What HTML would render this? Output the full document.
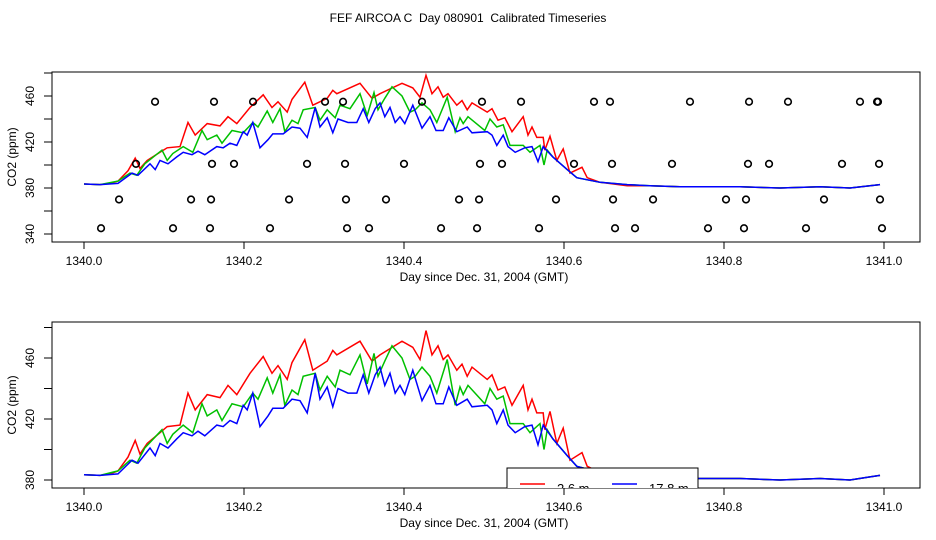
<!DOCTYPE html>
<html><head><meta charset="utf-8">
<style>
html,body{margin:0;padding:0;background:#fff;}
svg{display:block;font-family:"Liberation Sans",sans-serif;}
</style></head>
<body>
<svg id="chart" width="936" height="540" viewBox="0 0 936 540" xmlns="http://www.w3.org/2000/svg">
<rect x="0" y="0" width="936" height="540" fill="#fff"/>
<text x="468" y="22" text-anchor="middle" font-size="12" style="white-space:pre">FEF AIRCOA C  Day 080901  Calibrated Timeseries</text>
<defs>
<clipPath id="clipTop"><rect x="52" y="72" width="868" height="170"/></clipPath>
<clipPath id="clipBot"><rect x="52" y="322" width="868" height="166"/></clipPath>
</defs>
<g id="top"></g>
<g id="bot"></g>
</svg>
<script>
const dayBase = 1340;
const xTicks = [1340.0, 1340.2, 1340.4, 1340.6, 1340.8, 1341.0];
const xTickLabels = ["1340.0", "1340.2", "1340.4", "1340.6", "1340.8", "1341.0"];
const topYTicks = [340, 360, 380, 400, 420, 440, 460, 480];
const botYTicks = [380, 400, 420, 440, 460, 480];
const seriesNames = ["2.6 m", "17.8 m"];

const redT = [0,.02,.0325,.0425,.055,.064,.07,.079,.095,.104,.12,.13,.139,.154,.17,.18,.191,.2075,.224,.235,.2425,.254,.26,.276,.286,.304,.311,.316,.345,.36,.37,.3975,.411,.42,.4275,.435,.4425,.449,.455,.466,.4725,.479,.485,.504,.51,.5175,.526,.535,.549,.555,.56,.566,.574,.576,.5825,.591,.599,.6075,.6225,.629,.645,.679,.7075,.745,.77,.82,.87,.92,.9575,.9825,.995];
const redV = [383.5,383,384,386,395,406,397,404,411,415,416,437,426,436,434,442,436,450,461,450,455,446,457,472,452,458,465,462,471,458,462,471,467,459,478,462,468,459,462,452,456,448,454,446,449,439,441,429,442,426,433,424,424,413,425,404,414,393,398,389,385,382,382,381,381,381,380,381,380,382,383];

const greenT = [0,.02,.0425,.0575,.066,.076,.0975,.104,.111,.124,.136,.1475,.154,.166,.1725,.185,.199,.211,.2175,.229,.236,.245,.251,.26,.2675,.274,.289,.295,.304,.314,.32,.3325,.345,.354,.3625,.3675,.376,.385,.3975,.4075,.414,.4225,.4325,.441,.454,.464,.47,.474,.48,.501,.5075,.516,.524,.5325,.549,.5575,.57,.575,.579,.586,.604,.616,.645,.679,.7075,.745,.77,.82,.87,.92,.9575,.9825,.995];
const greenV = [383.5,383,386,393,391,401,413,404,410,416,411,430,422,426,419,430,428,437,433,447,437,449,429,439,436,448,450,439,448,441,452,449,462,443,463,448,458,468,460,446,448,454,448,437,459,429,441,436,442,430,440,433,435,417,417,411,417,400,413,407,396,389,385,383,382,381,381,381,380,381,380,382,383];

const blueT = [0,.02,.0425,.06,.0675,.0825,.089,.095,.105,.116,.124,.135,.1425,.151,.166,.174,.1825,.191,.199,.204,.211,.22,.23,.236,.249,.26,.27,.279,.289,.295,.304,.311,.3175,.33,.341,.349,.356,.364,.37,.376,.3825,.389,.395,.401,.411,.4225,.4325,.44,.449,.456,.466,.479,.485,.504,.51,.516,.524,.53,.539,.551,.56,.5675,.574,.586,.604,.616,.645,.679,.7075,.745,.77,.82,.87,.92,.9575,.9825,.995];
const blueV = [383.5,383,384,393,391,401,396,404,401,407,411,409,412,409,416,415,419,417,429,426,437,415,422,427,427,433,432,424,450,433,441,428,440,437,437,449,437,449,454,442,450,437,442,436,452,432,442,430,430,441,429,433,428,429,426,417,426,416,411,415,416,403,416,407,396,389,385,383,382,381,381,381,380,381,380,382,383];

const circT = [.0888,.1625,.2113,.3013,.3238,.4225,.4975,.5463,.6375,.6575,.7575,.8313,.88,.97,.9913,.9925,
 .065,.16,.1875,.2788,.3263,.4,.495,.5225,.6125,.66,.735,.83,.8563,.9475,.9938,
 .0438,.1338,.1588,.2563,.3275,.3775,.4688,.4938,.59,.6613,.7113,.8025,.8275,.925,.995,
 .0213,.1113,.1575,.2325,.3288,.3563,.4463,.4913,.5688,.6638,.6888,.78,.825,.9025,.9975];
const circV = [455,455,455,455,455,455,455,455,455,455,455,455,455,455,455,455,
 401,401,401,401,401,401,401,401,401,401,401,401,401,401,401,
 370,370,370,370,370,370,370,370,370,370,370,370,370,370,370,
 345,345,345,345,345,345,345,345,345,345,345,345,345,345,345];

const NS = "http://www.w3.org/2000/svg";
function mk(tag, attrs, parent){
  const e = document.createElementNS(NS, tag);
  for (const k in attrs) e.setAttribute(k, attrs[k]);
  parent.appendChild(e);
  return e;
}
const xL = 84, xR = 884;
function xScale(t){ return xL + (t - dayBase) * (xR - xL); }
function xDay(d){ return xScale(dayBase + d); }

function panel(g, top, bottom, v0, y0, v1, y1, yTicks, clipId, showCircles, showLegend, pfx){
  const yScale = v => y0 + (v - v0) * (y1 - y0) / (v1 - v0);
  const box = mk("rect", {x:52, y:top, width:868, height:bottom-top, fill:"none", stroke:"#000", "stroke-width":1}, g);
  
  
  const xa = mk("g", {}, g);
  
  
  mk("line", {x1:xScale(xTicks[0]), x2:xScale(xTicks[xTicks.length-1]), y1:bottom, y2:bottom, stroke:"#000"}, xa);
  xTicks.forEach((t, i) => {
    const x = xScale(t);
    mk("line", {x1:x, x2:x, y1:bottom, y2:bottom+7, stroke:"#000"}, xa);
    const tx = mk("text", {x:x, y:bottom+23, "text-anchor":"middle", "font-size":12}, xa);
    tx.textContent = xTickLabels[i];
    
    
  });
  const xt = mk("text", {x:484, y:bottom+39, "text-anchor":"middle", "font-size":12}, g);
  xt.textContent = "Day since Dec. 31, 2004 (GMT)";
  
  
  const ya = mk("g", {}, g);
  
  
  mk("line", {x1:52, x2:52, y1:yScale(yTicks[0]), y2:yScale(yTicks[yTicks.length-1]), stroke:"#000"}, ya);
  yTicks.forEach((v, i) => {
    const y = yScale(v);
    mk("line", {x1:44, x2:52, y1:y, y2:y, stroke:"#000"}, ya);
    if (i % 2 === 0) {
      const tx = mk("text", {x:0, y:0, transform:`translate(34,${y}) rotate(-90)`, "text-anchor":"middle", "font-size":12}, ya);
      tx.textContent = String(v);
      
      
    }
  });
  const yt = mk("text", {x:0, y:0, transform:`translate(16,${(top+bottom)/2}) rotate(-90)`, "text-anchor":"middle", "font-size":12}, g);
  yt.textContent = "CO2 (ppm)";
  
  
  const sg = mk("g", {"clip-path":`url(#${clipId})`}, g);
  [[redT, redV, "#ff0000", "red"], [greenT, greenV, "#00c000", "green"], [blueT, blueV, "#0000ff", "blue"]].forEach(s => {
    const pts = s[0].map((d, i) => xDay(d).toFixed(1) + "," + yScale(s[1][i]).toFixed(1)).join(" ");
    const pl = mk("polyline", {points:pts, fill:"none", stroke:s[2], "stroke-width":1.5}, sg);
    
    
  });
  if (showCircles) {
    circT.forEach((d, i) => {
      const c = mk("circle", {cx:xDay(d), cy:yScale(circV[i]), r:3.3, fill:"none", stroke:"#000", "stroke-width":1.6}, sg);
      
      
    });
  }
  if (showLegend) {
    const lg = mk("g", {}, sg);
    
    
    mk("rect", {x:507, y:468, width:191, height:40, fill:"#fff", stroke:"#000"}, lg);
    const cols = ["#ff0000", "#0000ff"];
    const lx = [520, 612];
    seriesNames.forEach((n, i) => {
      const e = mk("g", {}, lg);
      
      
      mk("line", {x1:lx[i], x2:lx[i]+25, y1:484, y2:484, stroke:cols[i], "stroke-width":1.5}, e);
      const t = mk("text", {x:lx[i]+37, y:493, "font-size":13}, e);
      t.textContent = n;
    });
  }
}
panel(document.getElementById("top"), 72, 242, 340, 234, 460, 96, topYTicks, "clipTop", true, false, "top");
panel(document.getElementById("bot"), 322, 488, 380, 480, 460, 358, botYTicks, "clipBot", false, true, "bottom");
</script>
</body></html>
